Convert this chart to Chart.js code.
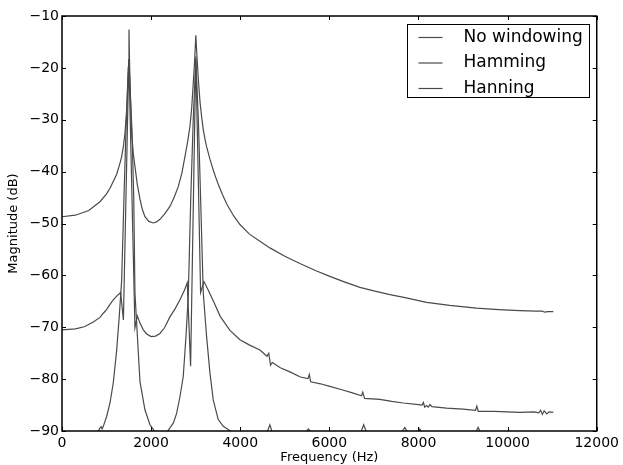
<!DOCTYPE html>
<html>
<head>
<meta charset="utf-8">
<script src="https://cdn.jsdelivr.net/npm/chart.js@4.4.1/dist/chart.umd.min.js"></script>
<style>
  html, body { margin: 0; padding: 0; background: #fff; }
</style>
</head>
<body>
<canvas id="chart" width="623" height="465"></canvas>
<script>
// series labels
var seriesNames = ['No windowing', 'Hamming', 'Hanning']

// axis ticks
var xTicks = [0, 2000, 4000, 6000, 8000, 10000, 12000]
var yTicks = [-90, -80, -70, -60, -50, -40, -30, -20, -10]

// No windowing (Hz / dB)
var noWinHz = [0, 300, 600, 852, 1000, 1077, 1150, 1227, 1300, 1339, 1380, 1413, 1451, 1488, 1503, 1518, 1540, 1563, 1600, 1637, 1690, 1750, 1800, 1861, 1950, 2048, 2120, 2198, 2300, 2422, 2520, 2609, 2690, 2759, 2820, 2871, 2910, 2945, 2980, 3003, 3030, 3065, 3100, 3133, 3170, 3210, 3245, 3320, 3394, 3450, 3500, 3600, 3700, 3850, 3993, 4200, 4441, 4665, 5000, 5338, 5700, 6011, 6350, 6684, 7000, 7357, 7700, 8180, 8700, 9301, 9800, 10273, 10647, 10780, 10834, 10900, 11025]
var noWinDb = [-48.7, -48.4, -47.5, -45.8, -44.3, -43.2, -41.9, -40.5, -38.4, -37.1, -35.0, -32.6, -28.1, -19.8, -12.6, -19.8, -27.0, -32.6, -36.5, -39.0, -42.5, -45.3, -47.2, -48.7, -49.6, -49.9, -49.7, -49.2, -48.2, -46.7, -44.9, -42.9, -40.3, -37.1, -34.2, -31.3, -27.8, -23.0, -18.0, -13.7, -18.0, -22.9, -26.8, -29.4, -31.9, -33.8, -35.2, -37.6, -39.7, -41.1, -42.3, -44.4, -46.3, -48.5, -50.2, -52.0, -53.4, -54.7, -56.3, -57.7, -59.1, -60.2, -61.3, -62.3, -63.0, -63.7, -64.3, -65.2, -65.8, -66.3, -66.6, -66.8, -66.9, -66.9, -67.1, -67.0, -67.0]

// Hamming (Hz / dB)
var hammingHz = [0, 300, 500, 703, 852, 927, 1000, 1077, 1151, 1227, 1280, 1316, 1378, 1500, 1637, 1690, 1750, 1824, 1900, 2000, 2100, 2198, 2300, 2422, 2540, 2647, 2750, 2811, 2886, 3003, 3110, 3185, 3280, 3394, 3550, 3768, 3993, 4200, 4441, 4600, 4640, 4680, 4720, 4900, 5114, 5350, 5520, 5550, 5580, 5800, 6011, 6300, 6500, 6720, 6750, 6790, 7133, 7400, 7656, 8000, 8080, 8110, 8140, 8180, 8220, 8260, 8300, 8628, 9000, 9280, 9310, 9340, 9700, 10273, 10600, 10700, 10740, 10780, 10820, 10880, 10930, 11025]
var hammingDb = [-70.5, -70.3, -69.9, -69.0, -68.1, -67.3, -66.6, -65.6, -64.7, -64.0, -63.6, -63.3, -68.6, -18.3, -70.1, -67.8, -69.2, -70.5, -71.3, -71.8, -71.7, -71.2, -70.1, -68.0, -66.4, -64.7, -62.8, -61.4, -77.5, -17.8, -63.3, -61.2, -62.8, -64.9, -67.9, -70.6, -72.4, -73.4, -74.4, -75.6, -75.0, -77.3, -76.8, -77.8, -78.6, -79.6, -79.9, -79.1, -80.5, -80.9, -81.4, -82.1, -82.6, -83.2, -82.5, -83.7, -83.9, -84.3, -84.6, -84.9, -85.0, -84.5, -85.4, -85.1, -85.4, -84.9, -85.3, -85.6, -85.8, -86.0, -85.2, -86.2, -86.2, -86.4, -86.3, -86.5, -86.0, -86.8, -86.1, -86.7, -86.3, -86.4]

// Hanning (Hz / dB)
var hanningHz = [0, 400, 700, 800, 852, 880, 900, 927, 1002, 1077, 1151, 1227, 1285, 1339, 1391, 1436, 1500, 1570, 1610, 1637, 1750, 1861, 1974, 2048, 2100, 2250, 2348, 2422, 2497, 2572, 2647, 2721, 2782, 2833, 2890, 2945, 3003, 3060, 3110, 3170, 3245, 3320, 3394, 3506, 3619, 3730, 3850, 4200, 4600, 4665, 4720, 5450, 5530, 5600, 6700, 6770, 6840, 7620, 7694, 7760, 8000, 8030, 8070, 9280, 9338, 9400, 11025]
var hanningDb = [-92.0, -92.0, -91.0, -90.3, -89.4, -89.2, -89.6, -89.1, -87.2, -84.6, -80.7, -74.4, -67.9, -60.9, -45.0, -32.0, -18.5, -32.0, -45.0, -63.4, -80.5, -85.9, -88.8, -89.7, -90.5, -91.0, -90.3, -89.4, -88.5, -86.6, -83.4, -79.5, -71.8, -64.1, -45.0, -30.0, -18.3, -30.0, -45.0, -63.4, -71.8, -78.8, -84.0, -87.8, -89.1, -89.7, -90.5, -90.8, -90.3, -88.8, -90.3, -90.4, -89.6, -90.4, -90.4, -88.8, -90.4, -90.3, -89.3, -90.3, -90.3, -89.6, -90.3, -90.3, -89.3, -90.4, -90.6]

var lineColor = '#4a4a4a'
var fontFamily = "'DejaVu Sans', sans-serif"

function toPoints(xs, ys) {
	return xs.map(function (x, i) { return { x: x, y: ys[i] } })
}

function minus(v) {
	return String(v).replace('-', '\u2212')
}

// matplotlib-like frame, inward ticks and boxed legend
var axesDecor = {
	id: 'axesDecor',
	afterDraw: function (chart) {
		var ctx = chart.ctx
		var a = chart.chartArea
		var xs = chart.scales.x
		var ys = chart.scales.y
		ctx.save()
		ctx.strokeStyle = '#000'
		ctx.lineWidth = 1
		ctx.beginPath()
		xTicks.forEach(function (v) {
			var px = Math.round(xs.getPixelForValue(v)) + 0.5
			ctx.moveTo(px, a.bottom)
			ctx.lineTo(px, a.bottom - 4)
			ctx.moveTo(px, a.top)
			ctx.lineTo(px, a.top + 4)
		})
		yTicks.forEach(function (v) {
			var py = Math.round(ys.getPixelForValue(v)) + 0.5
			ctx.moveTo(a.left, py)
			ctx.lineTo(a.left + 4, py)
			ctx.moveTo(a.right, py)
			ctx.lineTo(a.right - 4, py)
		})
		ctx.stroke()
		ctx.lineWidth = 1.5
		ctx.strokeRect(a.left, a.top, a.right - a.left, a.bottom - a.top)

		// legend
		ctx.font = '17px ' + fontFamily
		var boxW = 182
		var boxH = 73
		var bx = Math.round(a.right - 8 - boxW) + 0.5
		var by = Math.round(a.top + 8) + 0.5
		ctx.fillStyle = '#fff'
		ctx.fillRect(bx, by, boxW, boxH)
		ctx.lineWidth = 1
		ctx.strokeStyle = '#000'
		ctx.strokeRect(bx, by, boxW, boxH)
		ctx.textBaseline = 'middle'
		chart.data.datasets.forEach(function (d, i) {
			var cy = by + 13 + i * 25.5
			ctx.strokeStyle = d.borderColor
			ctx.lineWidth = 1.2
			ctx.beginPath()
			ctx.moveTo(bx + 11, cy)
			ctx.lineTo(bx + 35, cy)
			ctx.stroke()
			ctx.fillStyle = '#000'
			ctx.fillText(d.label, bx + 56, cy)
		})
		ctx.restore()
	}
}

function makeSet(label, xs, ys) {
	return {
		label: label,
		data: toPoints(xs, ys),
		borderColor: lineColor,
		borderWidth: 1.2,
		pointRadius: 0,
		showLine: true,
		fill: false,
		tension: 0
	}
}

var ctx = document.getElementById('chart').getContext('2d')
var chart = new Chart(ctx, {
	type: 'scatter',
	data: {
		datasets: [
			makeSet(seriesNames[0], noWinHz, noWinDb),
			makeSet(seriesNames[1], hammingHz, hammingDb),
			makeSet(seriesNames[2], hanningHz, hanningDb)
		]
	},
	options: {
		responsive: false,
		animation: false,
		devicePixelRatio: 1,
		layout: { padding: { top: 16, right: 26, left: 0, bottom: 0 } },
		plugins: {
			legend: { display: false },
			tooltip: { enabled: false }
		},
		scales: {
			x: {
				type: 'linear',
				min: 0,
				max: 12000,
				afterBuildTicks: function (s) { s.ticks = xTicks.map(function (v) { return { value: v } }) },
				afterFit: function (s) { s.height = 34 },
				grid: { display: false, drawTicks: false },
				border: { display: false },
				ticks: {
					padding: 4,
					color: '#000',
					maxRotation: 0,
					font: { family: fontFamily, size: 14 },
					callback: function (v) { return String(v) }
				},
				title: {
					display: true,
					text: 'Frequency (Hz)',
					color: '#000',
					padding: { top: 0, bottom: 0 },
					font: { family: fontFamily, size: 13 }
				}
			},
			y: {
				type: 'linear',
				min: -90,
				max: -10,
				afterBuildTicks: function (s) { s.ticks = yTicks.map(function (v) { return { value: v } }) },
				afterFit: function (s) { s.width = 62 },
				grid: { display: false, drawTicks: false },
				border: { display: false },
				ticks: {
					padding: 3,
					color: '#000',
					font: { family: fontFamily, size: 14 },
					callback: function (v) { return minus(v) }
				},
				title: {
					display: true,
					text: 'Magnitude (dB)',
					color: '#000',
					padding: { top: 6, bottom: 0 },
					font: { family: fontFamily, size: 13 }
				}
			}
		}
	},
	plugins: [axesDecor]
})
</script>
</body>
</html>
